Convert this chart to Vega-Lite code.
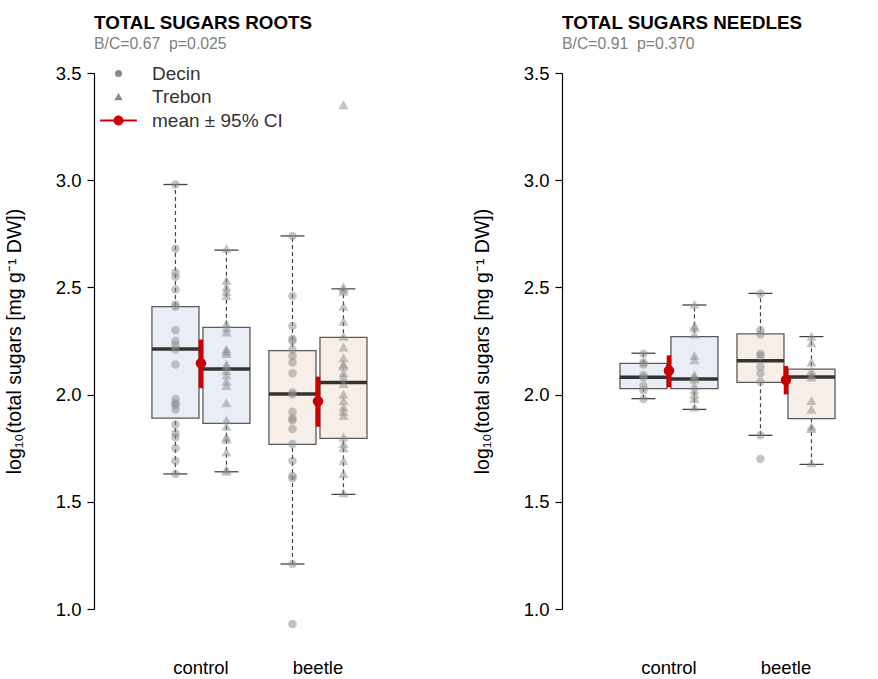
{
  "$schema": "https://vega.github.io/schema/vega-lite/v6.json",
  "padding": {"left": 4, "top": 14, "right": 5, "bottom": 5},
  "bounds": "flush",
  "spacing": 168,
  "background": "white",
  "config": {
    "font": "Liberation Sans",
    "view": {"stroke": null},
    "title": {"anchor": "start", "frame": "group", "font": "Liberation Sans", "fontSize": 18.8, "fontWeight": "bold", "color": "#000000", "subtitleFont": "Liberation Sans", "subtitleFontSize": 15.8, "subtitleColor": "#808080", "subtitlePadding": 4, "offset": 12},
    "axisY": {"domainColor": "#000000", "domainWidth": 1.2, "tickColor": "#000000", "tickWidth": 1.2, "tickSize": 7, "labelFontSize": 18.5, "labelColor": "#000000", "labelPadding": 6, "grid": false, "titleFontSize": 19.5, "titleFontWeight": "normal", "titleColor": "#000000", "titleX": -80, "titleY": 268, "titleAngle": 270, "titleAlign": "center", "titleBaseline": "middle"},
    "axisX": {"domain": false, "ticks": false, "labelAngle": 0, "labelFontSize": 18.5, "labelColor": "#000000", "labelPadding": 49, "grid": false}
  },
  "resolve": {"scale": {"color": "independent", "shape": "independent", "x": "independent", "xOffset": "independent", "y": "independent", "fill": "independent"}},
  "datasets": {
    "pts": [
      {"panel":"roots","group":"control","site":"Decin","v":2.98},
      {"panel":"roots","group":"control","site":"Decin","v":2.68},
      {"panel":"roots","group":"control","site":"Decin","v":2.57},
      {"panel":"roots","group":"control","site":"Decin","v":2.55},
      {"panel":"roots","group":"control","site":"Decin","v":2.49},
      {"panel":"roots","group":"control","site":"Decin","v":2.42},
      {"panel":"roots","group":"control","site":"Decin","v":2.41},
      {"panel":"roots","group":"control","site":"Decin","v":2.30},
      {"panel":"roots","group":"control","site":"Decin","v":2.25},
      {"panel":"roots","group":"control","site":"Decin","v":2.23},
      {"panel":"roots","group":"control","site":"Decin","v":2.21},
      {"panel":"roots","group":"control","site":"Decin","v":2.14},
      {"panel":"roots","group":"control","site":"Decin","v":1.98},
      {"panel":"roots","group":"control","site":"Decin","v":1.96},
      {"panel":"roots","group":"control","site":"Decin","v":1.95},
      {"panel":"roots","group":"control","site":"Decin","v":1.93},
      {"panel":"roots","group":"control","site":"Decin","v":1.86},
      {"panel":"roots","group":"control","site":"Decin","v":1.82},
      {"panel":"roots","group":"control","site":"Decin","v":1.80},
      {"panel":"roots","group":"control","site":"Decin","v":1.75},
      {"panel":"roots","group":"control","site":"Decin","v":1.69},
      {"panel":"roots","group":"control","site":"Decin","v":1.63},
      {"panel":"roots","group":"control","site":"Trebon","v":2.68},
      {"panel":"roots","group":"control","site":"Trebon","v":2.53},
      {"panel":"roots","group":"control","site":"Trebon","v":2.50},
      {"panel":"roots","group":"control","site":"Trebon","v":2.48},
      {"panel":"roots","group":"control","site":"Trebon","v":2.46},
      {"panel":"roots","group":"control","site":"Trebon","v":2.33},
      {"panel":"roots","group":"control","site":"Trebon","v":2.31},
      {"panel":"roots","group":"control","site":"Trebon","v":2.29},
      {"panel":"roots","group":"control","site":"Trebon","v":2.21},
      {"panel":"roots","group":"control","site":"Trebon","v":2.20},
      {"panel":"roots","group":"control","site":"Trebon","v":2.19},
      {"panel":"roots","group":"control","site":"Trebon","v":2.14},
      {"panel":"roots","group":"control","site":"Trebon","v":2.13},
      {"panel":"roots","group":"control","site":"Trebon","v":2.11},
      {"panel":"roots","group":"control","site":"Trebon","v":2.09},
      {"panel":"roots","group":"control","site":"Trebon","v":2.06},
      {"panel":"roots","group":"control","site":"Trebon","v":2.04},
      {"panel":"roots","group":"control","site":"Trebon","v":1.96},
      {"panel":"roots","group":"control","site":"Trebon","v":1.88},
      {"panel":"roots","group":"control","site":"Trebon","v":1.85},
      {"panel":"roots","group":"control","site":"Trebon","v":1.80},
      {"panel":"roots","group":"control","site":"Trebon","v":1.79},
      {"panel":"roots","group":"control","site":"Trebon","v":1.73},
      {"panel":"roots","group":"control","site":"Trebon","v":1.65},
      {"panel":"roots","group":"control","site":"Trebon","v":1.64},
      {"panel":"roots","group":"beetle","site":"Decin","v":2.74},
      {"panel":"roots","group":"beetle","site":"Decin","v":2.46},
      {"panel":"roots","group":"beetle","site":"Decin","v":2.32},
      {"panel":"roots","group":"beetle","site":"Decin","v":2.26},
      {"panel":"roots","group":"beetle","site":"Decin","v":2.25},
      {"panel":"roots","group":"beetle","site":"Decin","v":2.21},
      {"panel":"roots","group":"beetle","site":"Decin","v":2.18},
      {"panel":"roots","group":"beetle","site":"Decin","v":2.15},
      {"panel":"roots","group":"beetle","site":"Decin","v":2.10},
      {"panel":"roots","group":"beetle","site":"Decin","v":2.01},
      {"panel":"roots","group":"beetle","site":"Decin","v":2.00},
      {"panel":"roots","group":"beetle","site":"Decin","v":1.92},
      {"panel":"roots","group":"beetle","site":"Decin","v":1.89},
      {"panel":"roots","group":"beetle","site":"Decin","v":1.88},
      {"panel":"roots","group":"beetle","site":"Decin","v":1.84},
      {"panel":"roots","group":"beetle","site":"Decin","v":1.77},
      {"panel":"roots","group":"beetle","site":"Decin","v":1.69},
      {"panel":"roots","group":"beetle","site":"Decin","v":1.62},
      {"panel":"roots","group":"beetle","site":"Decin","v":1.61},
      {"panel":"roots","group":"beetle","site":"Decin","v":1.21},
      {"panel":"roots","group":"beetle","site":"Decin","v":0.93},
      {"panel":"roots","group":"beetle","site":"Trebon","v":3.35},
      {"panel":"roots","group":"beetle","site":"Trebon","v":2.50},
      {"panel":"roots","group":"beetle","site":"Trebon","v":2.49},
      {"panel":"roots","group":"beetle","site":"Trebon","v":2.48},
      {"panel":"roots","group":"beetle","site":"Trebon","v":2.41},
      {"panel":"roots","group":"beetle","site":"Trebon","v":2.34},
      {"panel":"roots","group":"beetle","site":"Trebon","v":2.27},
      {"panel":"roots","group":"beetle","site":"Trebon","v":2.22},
      {"panel":"roots","group":"beetle","site":"Trebon","v":2.17},
      {"panel":"roots","group":"beetle","site":"Trebon","v":2.14},
      {"panel":"roots","group":"beetle","site":"Trebon","v":2.13},
      {"panel":"roots","group":"beetle","site":"Trebon","v":2.10},
      {"panel":"roots","group":"beetle","site":"Trebon","v":2.08},
      {"panel":"roots","group":"beetle","site":"Trebon","v":2.05},
      {"panel":"roots","group":"beetle","site":"Trebon","v":2.00},
      {"panel":"roots","group":"beetle","site":"Trebon","v":1.97},
      {"panel":"roots","group":"beetle","site":"Trebon","v":1.94},
      {"panel":"roots","group":"beetle","site":"Trebon","v":1.92},
      {"panel":"roots","group":"beetle","site":"Trebon","v":1.90},
      {"panel":"roots","group":"beetle","site":"Trebon","v":1.80},
      {"panel":"roots","group":"beetle","site":"Trebon","v":1.77},
      {"panel":"roots","group":"beetle","site":"Trebon","v":1.75},
      {"panel":"roots","group":"beetle","site":"Trebon","v":1.69},
      {"panel":"roots","group":"beetle","site":"Trebon","v":1.63},
      {"panel":"roots","group":"beetle","site":"Trebon","v":1.54},
      {"panel":"needles","group":"control","site":"Decin","v":2.19},
      {"panel":"needles","group":"control","site":"Decin","v":2.15},
      {"panel":"needles","group":"control","site":"Decin","v":2.14},
      {"panel":"needles","group":"control","site":"Decin","v":2.09},
      {"panel":"needles","group":"control","site":"Decin","v":2.08},
      {"panel":"needles","group":"control","site":"Decin","v":2.04},
      {"panel":"needles","group":"control","site":"Decin","v":2.02},
      {"panel":"needles","group":"control","site":"Decin","v":1.98},
      {"panel":"needles","group":"control","site":"Trebon","v":2.42},
      {"panel":"needles","group":"control","site":"Trebon","v":2.32},
      {"panel":"needles","group":"control","site":"Trebon","v":2.31},
      {"panel":"needles","group":"control","site":"Trebon","v":2.28},
      {"panel":"needles","group":"control","site":"Trebon","v":2.18},
      {"panel":"needles","group":"control","site":"Trebon","v":2.16},
      {"panel":"needles","group":"control","site":"Trebon","v":2.09},
      {"panel":"needles","group":"control","site":"Trebon","v":2.08},
      {"panel":"needles","group":"control","site":"Trebon","v":2.07},
      {"panel":"needles","group":"control","site":"Trebon","v":2.04},
      {"panel":"needles","group":"control","site":"Trebon","v":2.02},
      {"panel":"needles","group":"control","site":"Trebon","v":2.00},
      {"panel":"needles","group":"control","site":"Trebon","v":1.98},
      {"panel":"needles","group":"control","site":"Trebon","v":1.94},
      {"panel":"needles","group":"beetle","site":"Decin","v":2.47},
      {"panel":"needles","group":"beetle","site":"Decin","v":2.30},
      {"panel":"needles","group":"beetle","site":"Decin","v":2.28},
      {"panel":"needles","group":"beetle","site":"Decin","v":2.19},
      {"panel":"needles","group":"beetle","site":"Decin","v":2.18},
      {"panel":"needles","group":"beetle","site":"Decin","v":2.13},
      {"panel":"needles","group":"beetle","site":"Decin","v":2.10},
      {"panel":"needles","group":"beetle","site":"Decin","v":2.06},
      {"panel":"needles","group":"beetle","site":"Decin","v":1.81},
      {"panel":"needles","group":"beetle","site":"Decin","v":1.70},
      {"panel":"needles","group":"beetle","site":"Trebon","v":2.27},
      {"panel":"needles","group":"beetle","site":"Trebon","v":2.24},
      {"panel":"needles","group":"beetle","site":"Trebon","v":2.15},
      {"panel":"needles","group":"beetle","site":"Trebon","v":2.11},
      {"panel":"needles","group":"beetle","site":"Trebon","v":2.09},
      {"panel":"needles","group":"beetle","site":"Trebon","v":2.08},
      {"panel":"needles","group":"beetle","site":"Trebon","v":1.97},
      {"panel":"needles","group":"beetle","site":"Trebon","v":1.93},
      {"panel":"needles","group":"beetle","site":"Trebon","v":1.85},
      {"panel":"needles","group":"beetle","site":"Trebon","v":1.84},
      {"panel":"needles","group":"beetle","site":"Trebon","v":1.68}
    ],
    "box": [
      {"panel":"roots","group":"control","site":"Decin","lo":1.63,"q1":1.89,"med":2.213,"q3":2.41,"hi":2.98},
      {"panel":"roots","group":"control","site":"Trebon","lo":1.64,"q1":1.866,"med":2.119,"q3":2.314,"hi":2.674},
      {"panel":"roots","group":"beetle","site":"Decin","lo":1.21,"q1":1.768,"med":2.003,"q3":2.205,"hi":2.74},
      {"panel":"roots","group":"beetle","site":"Trebon","lo":1.535,"q1":1.796,"med":2.057,"q3":2.267,"hi":2.493},
      {"panel":"needles","group":"control","site":"Decin","lo":1.981,"q1":2.028,"med":2.081,"q3":2.146,"hi":2.193},
      {"panel":"needles","group":"control","site":"Trebon","lo":1.931,"q1":2.028,"med":2.073,"q3":2.27,"hi":2.418},
      {"panel":"needles","group":"beetle","site":"Decin","lo":1.81,"q1":2.057,"med":2.158,"q3":2.283,"hi":2.472},
      {"panel":"needles","group":"beetle","site":"Trebon","lo":1.675,"q1":1.888,"med":2.082,"q3":2.119,"hi":2.27}
    ],
    "mean": [
      {"panel":"roots","group":"control","m":2.146,"lo":2.03,"hi":2.257},
      {"panel":"roots","group":"beetle","m":1.969,"lo":1.85,"hi":2.084},
      {"panel":"needles","group":"control","m":2.112,"lo":2.034,"hi":2.183},
      {"panel":"needles","group":"beetle","m":2.068,"lo":2.001,"hi":2.133}
    ]
  },
  "hconcat": [
    {
      "width": 300,
      "height": 536,
      "title": {"text": "TOTAL SUGARS ROOTS", "subtitle": "B/C=0.67\u00a0 p=0.025"},
      "layer": [
        {
          "data": {"name": "box"},
          "transform": [{"filter": "datum.panel === 'roots'"}],
          "mark": {"type": "rule", "color": "#444444", "strokeWidth": 1.2, "strokeDash": [4, 3]},
          "encoding": {
            "x": {"field": "group", "type": "nominal", "title": null, "scale": {"domain": ["control", "beetle"], "paddingInner": 0.1624, "paddingOuter": 0.363, "align": 0.682}},
            "xOffset": {"field": "site", "type": "nominal", "scale": {"domain": ["Decin", "Trebon"], "paddingInner": 0.078, "paddingOuter": 0}},
            "y": {"field": "lo", "type": "quantitative", "title": "log₁₀(total sugars [mg g⁻¹ DW])", "scale": {"domain": [1, 3.5], "nice": false, "zero": false}, "axis": {"values": [1, 1.5, 2, 2.5, 3, 3.5], "format": ".1f"}},
            "y2": {"field": "hi"}
          }
        },
        {
          "data": {"name": "box"},
          "transform": [{"filter": "datum.panel === 'roots'"}, {"fold": ["lo", "hi"], "as": ["k", "w"]}],
          "mark": {"type": "tick", "color": "#444444", "size": 24, "thickness": 1.3, "opacity": 1},
          "encoding": {
            "x": {"field": "group", "type": "nominal", "title": null, "scale": {"domain": ["control", "beetle"], "paddingInner": 0.1624, "paddingOuter": 0.363, "align": 0.682}},
            "xOffset": {"field": "site", "type": "nominal", "scale": {"domain": ["Decin", "Trebon"], "paddingInner": 0.078, "paddingOuter": 0}},
            "y": {"field": "w", "type": "quantitative", "title": "log₁₀(total sugars [mg g⁻¹ DW])", "scale": {"domain": [1, 3.5], "nice": false, "zero": false}, "axis": {"values": [1, 1.5, 2, 2.5, 3, 3.5], "format": ".1f"}}
          }
        },
        {
          "data": {"name": "box"},
          "transform": [{"filter": "datum.panel === 'roots'"}],
          "mark": {"type": "bar", "stroke": "#5a5a5a", "strokeWidth": 1.3, "opacity": 1},
          "encoding": {
            "x": {"field": "group", "type": "nominal", "title": null, "scale": {"domain": ["control", "beetle"], "paddingInner": 0.1624, "paddingOuter": 0.363, "align": 0.682}},
            "xOffset": {"field": "site", "type": "nominal", "scale": {"domain": ["Decin", "Trebon"], "paddingInner": 0.078, "paddingOuter": 0}},
            "y": {"field": "q1", "type": "quantitative", "title": "log₁₀(total sugars [mg g⁻¹ DW])", "scale": {"domain": [1, 3.5], "nice": false, "zero": false}, "axis": {"values": [1, 1.5, 2, 2.5, 3, 3.5], "format": ".1f"}},
            "y2": {"field": "q3"},
            "fill": {"field": "group", "type": "nominal", "scale": {"domain": ["control", "beetle"], "range": ["#e9eef6", "#f7eee7"]}, "legend": null}
          }
        },
        {
          "data": {"name": "box"},
          "transform": [{"filter": "datum.panel === 'roots'"}],
          "mark": {"type": "tick", "color": "#333333", "size": 47, "thickness": 3.5, "opacity": 1},
          "encoding": {
            "x": {"field": "group", "type": "nominal", "title": null, "scale": {"domain": ["control", "beetle"], "paddingInner": 0.1624, "paddingOuter": 0.363, "align": 0.682}},
            "xOffset": {"field": "site", "type": "nominal", "scale": {"domain": ["Decin", "Trebon"], "paddingInner": 0.078, "paddingOuter": 0}},
            "y": {"field": "med", "type": "quantitative", "title": "log₁₀(total sugars [mg g⁻¹ DW])", "scale": {"domain": [1, 3.5], "nice": false, "zero": false}, "axis": {"values": [1, 1.5, 2, 2.5, 3, 3.5], "format": ".1f"}}
          }
        },
        {
          "data": {"name": "pts"},
          "transform": [{"filter": "datum.panel === 'roots'"}],
          "mark": {"type": "point", "filled": true, "opacity": 0.5, "size": 72},
          "encoding": {
            "x": {"field": "group", "type": "nominal", "title": null, "scale": {"domain": ["control", "beetle"], "paddingInner": 0.1624, "paddingOuter": 0.363, "align": 0.682}},
            "xOffset": {"field": "site", "type": "nominal", "scale": {"domain": ["Decin", "Trebon"], "paddingInner": 0.078, "paddingOuter": 0}},
            "y": {"field": "v", "type": "quantitative", "title": "log₁₀(total sugars [mg g⁻¹ DW])", "scale": {"domain": [1, 3.5], "nice": false, "zero": false}, "axis": {"values": [1, 1.5, 2, 2.5, 3, 3.5], "format": ".1f"}},
            "shape": {"field": "site", "type": "nominal", "scale": {"domain": ["Decin", "Trebon", "mean ± 95% CI"], "range": ["circle", "M0,-1.15L1.2,0.95L-1.2,0.95Z", "M-5.2,-0.28H5.2V0.28H-5.2ZM-1.4,0A1.4,1.4 0 1,1 1.4,0A1.4,1.4 0 1,1 -1.4,0Z"]}, "legend": {"title": null, "orient": "none", "legendX": 15, "legendY": -9, "symbolSize": 50, "symbolOpacity": 1, "symbolStrokeWidth": 0, "labelFontSize": 19, "labelColor": "#333333", "labelOffset": 24, "rowPadding": 3.5, "padding": 0}},
            "color": {"field": "site", "type": "nominal", "scale": {"domain": ["Decin", "Trebon", "mean ± 95% CI"], "range": ["#8a8a8a", "#8a8a8a", "#cc0000"]}, "legend": {"title": null, "orient": "none", "legendX": 15, "legendY": -9, "symbolSize": 50, "symbolOpacity": 1, "symbolStrokeWidth": 0, "labelFontSize": 19, "labelColor": "#333333", "labelOffset": 24, "rowPadding": 3.5, "padding": 0}}
          }
        },
        {
          "data": {"name": "mean"},
          "transform": [{"filter": "datum.panel === 'roots'"}],
          "mark": {"type": "rule", "color": "#cc0000", "strokeWidth": 4.5},
          "encoding": {
            "x": {"field": "group", "type": "nominal", "title": null, "scale": {"domain": ["control", "beetle"], "paddingInner": 0.1624, "paddingOuter": 0.363, "align": 0.682}},
            "y": {"field": "lo", "type": "quantitative", "title": "log₁₀(total sugars [mg g⁻¹ DW])", "scale": {"domain": [1, 3.5], "nice": false, "zero": false}, "axis": {"values": [1, 1.5, 2, 2.5, 3, 3.5], "format": ".1f"}},
            "y2": {"field": "hi"}
          }
        },
        {
          "data": {"name": "mean"},
          "transform": [{"filter": "datum.panel === 'roots'"}],
          "mark": {"type": "point", "filled": true, "color": "#cc0000", "opacity": 1, "size": 110},
          "encoding": {
            "x": {"field": "group", "type": "nominal", "title": null, "scale": {"domain": ["control", "beetle"], "paddingInner": 0.1624, "paddingOuter": 0.363, "align": 0.682}},
            "y": {"field": "m", "type": "quantitative", "title": "log₁₀(total sugars [mg g⁻¹ DW])", "scale": {"domain": [1, 3.5], "nice": false, "zero": false}, "axis": {"values": [1, 1.5, 2, 2.5, 3, 3.5], "format": ".1f"}}
          }
        }
      ]
    },
    {
      "width": 300,
      "height": 536,
      "title": {"text": "TOTAL SUGARS NEEDLES", "subtitle": "B/C=0.91\u00a0 p=0.370"},
      "layer": [
        {
          "data": {"name": "box"},
          "transform": [{"filter": "datum.panel === 'needles'"}],
          "mark": {"type": "rule", "color": "#444444", "strokeWidth": 1.2, "strokeDash": [4, 3]},
          "encoding": {
            "x": {"field": "group", "type": "nominal", "title": null, "scale": {"domain": ["control", "beetle"], "paddingInner": 0.1624, "paddingOuter": 0.363, "align": 0.682}},
            "xOffset": {"field": "site", "type": "nominal", "scale": {"domain": ["Decin", "Trebon"], "paddingInner": 0.078, "paddingOuter": 0}},
            "y": {"field": "lo", "type": "quantitative", "title": "log₁₀(total sugars [mg g⁻¹ DW])", "scale": {"domain": [1, 3.5], "nice": false, "zero": false}, "axis": {"values": [1, 1.5, 2, 2.5, 3, 3.5], "format": ".1f"}},
            "y2": {"field": "hi"}
          }
        },
        {
          "data": {"name": "box"},
          "transform": [{"filter": "datum.panel === 'needles'"}, {"fold": ["lo", "hi"], "as": ["k", "w"]}],
          "mark": {"type": "tick", "color": "#444444", "size": 24, "thickness": 1.3, "opacity": 1},
          "encoding": {
            "x": {"field": "group", "type": "nominal", "title": null, "scale": {"domain": ["control", "beetle"], "paddingInner": 0.1624, "paddingOuter": 0.363, "align": 0.682}},
            "xOffset": {"field": "site", "type": "nominal", "scale": {"domain": ["Decin", "Trebon"], "paddingInner": 0.078, "paddingOuter": 0}},
            "y": {"field": "w", "type": "quantitative", "title": "log₁₀(total sugars [mg g⁻¹ DW])", "scale": {"domain": [1, 3.5], "nice": false, "zero": false}, "axis": {"values": [1, 1.5, 2, 2.5, 3, 3.5], "format": ".1f"}}
          }
        },
        {
          "data": {"name": "box"},
          "transform": [{"filter": "datum.panel === 'needles'"}],
          "mark": {"type": "bar", "stroke": "#5a5a5a", "strokeWidth": 1.3, "opacity": 1},
          "encoding": {
            "x": {"field": "group", "type": "nominal", "title": null, "scale": {"domain": ["control", "beetle"], "paddingInner": 0.1624, "paddingOuter": 0.363, "align": 0.682}},
            "xOffset": {"field": "site", "type": "nominal", "scale": {"domain": ["Decin", "Trebon"], "paddingInner": 0.078, "paddingOuter": 0}},
            "y": {"field": "q1", "type": "quantitative", "title": "log₁₀(total sugars [mg g⁻¹ DW])", "scale": {"domain": [1, 3.5], "nice": false, "zero": false}, "axis": {"values": [1, 1.5, 2, 2.5, 3, 3.5], "format": ".1f"}},
            "y2": {"field": "q3"},
            "fill": {"field": "group", "type": "nominal", "scale": {"domain": ["control", "beetle"], "range": ["#e9eef6", "#f7eee7"]}, "legend": null}
          }
        },
        {
          "data": {"name": "box"},
          "transform": [{"filter": "datum.panel === 'needles'"}],
          "mark": {"type": "tick", "color": "#333333", "size": 47, "thickness": 3.5, "opacity": 1},
          "encoding": {
            "x": {"field": "group", "type": "nominal", "title": null, "scale": {"domain": ["control", "beetle"], "paddingInner": 0.1624, "paddingOuter": 0.363, "align": 0.682}},
            "xOffset": {"field": "site", "type": "nominal", "scale": {"domain": ["Decin", "Trebon"], "paddingInner": 0.078, "paddingOuter": 0}},
            "y": {"field": "med", "type": "quantitative", "title": "log₁₀(total sugars [mg g⁻¹ DW])", "scale": {"domain": [1, 3.5], "nice": false, "zero": false}, "axis": {"values": [1, 1.5, 2, 2.5, 3, 3.5], "format": ".1f"}}
          }
        },
        {
          "data": {"name": "pts"},
          "transform": [{"filter": "datum.panel === 'needles'"}],
          "mark": {"type": "point", "filled": true, "opacity": 0.5, "size": 72, "color": "#8a8a8a"},
          "encoding": {
            "x": {"field": "group", "type": "nominal", "title": null, "scale": {"domain": ["control", "beetle"], "paddingInner": 0.1624, "paddingOuter": 0.363, "align": 0.682}},
            "xOffset": {"field": "site", "type": "nominal", "scale": {"domain": ["Decin", "Trebon"], "paddingInner": 0.078, "paddingOuter": 0}},
            "y": {"field": "v", "type": "quantitative", "title": "log₁₀(total sugars [mg g⁻¹ DW])", "scale": {"domain": [1, 3.5], "nice": false, "zero": false}, "axis": {"values": [1, 1.5, 2, 2.5, 3, 3.5], "format": ".1f"}},
            "shape": {"field": "site", "type": "nominal", "scale": {"domain": ["Decin", "Trebon"], "range": ["circle", "M0,-1.15L1.2,0.95L-1.2,0.95Z"]}, "legend": null}
          }
        },
        {
          "data": {"name": "mean"},
          "transform": [{"filter": "datum.panel === 'needles'"}],
          "mark": {"type": "rule", "color": "#cc0000", "strokeWidth": 4.5},
          "encoding": {
            "x": {"field": "group", "type": "nominal", "title": null, "scale": {"domain": ["control", "beetle"], "paddingInner": 0.1624, "paddingOuter": 0.363, "align": 0.682}},
            "y": {"field": "lo", "type": "quantitative", "title": "log₁₀(total sugars [mg g⁻¹ DW])", "scale": {"domain": [1, 3.5], "nice": false, "zero": false}, "axis": {"values": [1, 1.5, 2, 2.5, 3, 3.5], "format": ".1f"}},
            "y2": {"field": "hi"}
          }
        },
        {
          "data": {"name": "mean"},
          "transform": [{"filter": "datum.panel === 'needles'"}],
          "mark": {"type": "point", "filled": true, "color": "#cc0000", "opacity": 1, "size": 110},
          "encoding": {
            "x": {"field": "group", "type": "nominal", "title": null, "scale": {"domain": ["control", "beetle"], "paddingInner": 0.1624, "paddingOuter": 0.363, "align": 0.682}},
            "y": {"field": "m", "type": "quantitative", "title": "log₁₀(total sugars [mg g⁻¹ DW])", "scale": {"domain": [1, 3.5], "nice": false, "zero": false}, "axis": {"values": [1, 1.5, 2, 2.5, 3, 3.5], "format": ".1f"}}
          }
        }
      ]
    }
  ]
}
